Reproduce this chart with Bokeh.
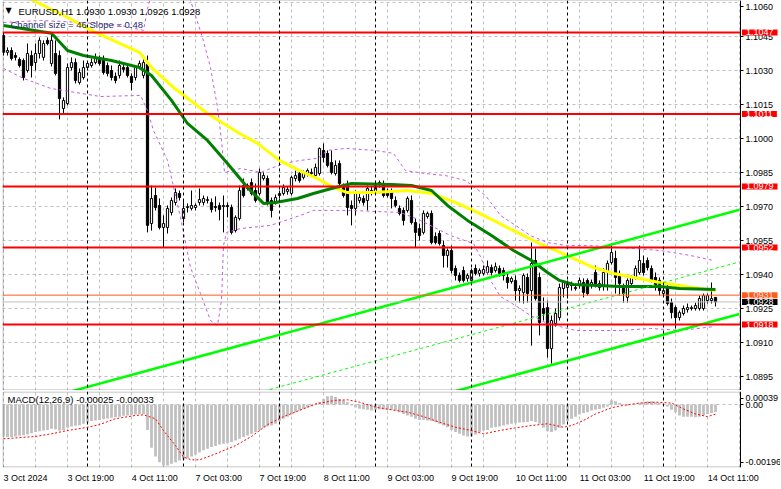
from bokeh.plotting import figure
from bokeh.layouts import column
from bokeh.models import (Range1d, FixedTicker, Span, Label, NumeralTickFormatter, ColumnDataSource,
                          BoxAnnotation)
from bokeh.embed import file_html
from bokeh.resources import INLINE

# ---------------- data (EURUSD H1, bar 0 = 3 Oct 03:00) ----------------
bar_open = [1.10457,1.10382,1.10390,1.10368,1.10351,1.10346,1.10302,1.10368,1.10337,1.10377,
1.10360,1.10435,1.10333,1.10377,1.10368,1.10134,1.10156,1.10315,1.10337,1.10249,
1.10271,1.10315,1.10324,1.10337,1.10355,1.10355,1.10324,1.10302,1.10276,1.10280,
1.10315,1.10315,1.10276,1.10271,1.10315,1.10280,1.10329,1.09626,1.09750,1.09706,
1.09609,1.09609,1.09675,1.09719,1.09759,1.09648,1.09697,1.09693,1.09697,1.09719,
1.09719,1.09728,1.09719,1.09701,1.09706,1.09701,1.09706,1.09697,1.09595,1.09648,
1.09794,1.09781,1.09807,1.09772,1.09759,1.09825,1.09825,1.09728,1.09719,1.09750,
1.09759,1.09768,1.09759,1.09825,1.09847,1.09830,1.09843,1.09847,1.09838,1.09847,
1.09949,1.09936,1.09896,1.09847,1.09891,1.09785,1.09794,1.09706,1.09693,1.09728,
1.09737,1.09728,1.09772,1.09763,1.09803,1.09803,1.09763,1.09772,1.09728,1.09693,
1.09684,1.09684,1.09728,1.09631,1.09604,1.09587,1.09657,1.09671,1.09569,1.09582,
1.09529,1.09485,1.09507,1.09428,1.09397,1.09419,1.09384,1.09375,1.09428,1.09406,
1.09406,1.09410,1.09432,1.09419,1.09428,1.09419,1.09388,1.09370,1.09375,1.09330,
1.09322,1.09388,1.09330,1.09463,1.09388,1.09251,1.09255,1.09074,1.09185,1.09211,
1.09339,1.09344,1.09353,1.09339,1.09353,1.09366,1.09375,1.09353,1.09410,1.09344,
1.09353,1.09410,1.09454,1.09472,1.09397,1.09344,1.09300,1.09361,1.09388,1.09410,
1.09450,1.09463,1.09428,1.09388,1.09375,1.09317,1.09344,1.09277,1.09255,1.09211,
1.09229,1.09246,1.09251,1.09251,1.09251,1.09251,1.09286,1.09286,1.09300]
bar_high = [1.10470,1.10404,1.10404,1.10382,1.10360,1.10355,1.10421,1.10390,1.10421,1.10448,
1.10435,1.10448,1.10466,1.10435,1.10390,1.10183,1.10333,1.10360,1.10355,1.10311,
1.10346,1.10337,1.10355,1.10377,1.10368,1.10368,1.10337,1.10324,1.10293,1.10346,
1.10333,1.10333,1.10289,1.10324,1.10346,1.10368,1.10368,1.09794,1.09785,1.09737,
1.09662,1.09706,1.09741,1.09781,1.09772,1.09728,1.09715,1.09772,1.09715,1.09781,
1.09750,1.09746,1.09737,1.09746,1.09719,1.09750,1.09719,1.09710,1.09662,1.09794,
1.09825,1.09803,1.09825,1.09803,1.09869,1.09852,1.09838,1.09741,1.09754,1.09772,
1.09799,1.09790,1.09838,1.09860,1.09860,1.09860,1.09869,1.09869,1.09891,1.09962,
1.09980,1.09949,1.09949,1.09905,1.09905,1.09803,1.09816,1.09728,1.09772,1.09759,
1.09750,1.09794,1.09790,1.09807,1.09816,1.09816,1.09781,1.09781,1.09746,1.09706,
1.09697,1.09746,1.09750,1.09648,1.09626,1.09684,1.09679,1.09684,1.09587,1.09595,
1.09551,1.09516,1.09529,1.09441,1.09410,1.09436,1.09406,1.09428,1.09445,1.09428,
1.09441,1.09463,1.09445,1.09454,1.09441,1.09432,1.09410,1.09392,1.09397,1.09353,
1.09406,1.09406,1.09542,1.09516,1.09410,1.09300,1.09286,1.09220,1.09251,1.09361,
1.09375,1.09375,1.09370,1.09361,1.09388,1.09384,1.09384,1.09379,1.09441,1.09375,
1.09428,1.09463,1.09538,1.09507,1.09419,1.09361,1.09384,1.09397,1.09441,1.09529,
1.09485,1.09476,1.09441,1.09410,1.09388,1.09344,1.09357,1.09295,1.09264,1.09242,
1.09264,1.09273,1.09264,1.09277,1.09308,1.09317,1.09317,1.09366,1.09300]
bar_low = [1.10368,1.10368,1.10346,1.10346,1.10315,1.10258,1.10293,1.10271,1.10302,1.10355,
1.10346,1.10413,1.10320,1.10280,1.10086,1.10112,1.10148,1.10302,1.10245,1.10240,
1.10262,1.10302,1.10315,1.10329,1.10324,1.10284,1.10276,1.10258,1.10245,1.10267,
1.10293,1.10271,1.10214,1.10258,1.10307,1.10267,1.09587,1.09595,1.09684,1.09600,
1.09520,1.09582,1.09662,1.09706,1.09728,1.09631,1.09675,1.09684,1.09684,1.09706,
1.09706,1.09715,1.09675,1.09679,1.09640,1.09587,1.09653,1.09578,1.09587,1.09640,
1.09741,1.09772,1.09750,1.09719,1.09750,1.09816,1.09706,1.09653,1.09710,1.09737,
1.09750,1.09754,1.09750,1.09812,1.09807,1.09821,1.09834,1.09838,1.09830,1.09838,
1.09896,1.09874,1.09843,1.09838,1.09772,1.09741,1.09662,1.09618,1.09662,1.09715,
1.09706,1.09684,1.09750,1.09754,1.09785,1.09741,1.09741,1.09693,1.09697,1.09662,
1.09618,1.09675,1.09622,1.09520,1.09551,1.09578,1.09648,1.09534,1.09534,1.09529,
1.09432,1.09432,1.09406,1.09375,1.09366,1.09366,1.09370,1.09366,1.09397,1.09392,
1.09397,1.09401,1.09397,1.09410,1.09392,1.09375,1.09339,1.09361,1.09286,1.09277,
1.09273,1.09277,1.09087,1.09286,1.09132,1.09198,1.09034,1.09008,1.09171,1.09198,
1.09300,1.09295,1.09330,1.09330,1.09339,1.09300,1.09308,1.09339,1.09344,1.09330,
1.09330,1.09330,1.09445,1.09317,1.09308,1.09277,1.09277,1.09353,1.09379,1.09401,
1.09397,1.09419,1.09366,1.09330,1.09308,1.09304,1.09264,1.09207,1.09163,1.09198,
1.09220,1.09233,1.09242,1.09242,1.09242,1.09242,1.09273,1.09273,1.09260]
bar_close = [1.10382,1.10390,1.10355,1.10360,1.10324,1.10271,1.10377,1.10324,1.10377,1.10435,
1.10421,1.10421,1.10435,1.10289,1.10178,1.10170,1.10315,1.10337,1.10258,1.10293,
1.10315,1.10333,1.10337,1.10355,1.10333,1.10293,1.10289,1.10271,1.10258,1.10324,
1.10307,1.10280,1.10249,1.10315,1.10333,1.10337,1.09618,1.09737,1.09697,1.09609,
1.09626,1.09693,1.09728,1.09763,1.09741,1.09693,1.09701,1.09706,1.09706,1.09732,
1.09737,1.09732,1.09688,1.09697,1.09688,1.09706,1.09701,1.09587,1.09653,1.09772,
1.09750,1.09794,1.09759,1.09728,1.09852,1.09838,1.09715,1.09684,1.09741,1.09759,
1.09785,1.09777,1.09830,1.09838,1.09816,1.09847,1.09860,1.09852,1.09874,1.09958,
1.09918,1.09883,1.09852,1.09883,1.09803,1.09750,1.09697,1.09693,1.09759,1.09741,
1.09719,1.09781,1.09759,1.09794,1.09807,1.09750,1.09750,1.09737,1.09706,1.09671,
1.09640,1.09737,1.09631,1.09587,1.09573,1.09671,1.09671,1.09542,1.09542,1.09538,
1.09485,1.09507,1.09419,1.09397,1.09375,1.09375,1.09397,1.09419,1.09406,1.09419,
1.09423,1.09436,1.09410,1.09436,1.09406,1.09397,1.09366,1.09384,1.09330,1.09339,
1.09397,1.09317,1.09450,1.09295,1.09189,1.09229,1.09074,1.09198,1.09229,1.09344,
1.09366,1.09361,1.09361,1.09344,1.09375,1.09322,1.09317,1.09366,1.09353,1.09361,
1.09410,1.09450,1.09498,1.09388,1.09361,1.09317,1.09375,1.09388,1.09428,1.09463,
1.09410,1.09432,1.09375,1.09344,1.09330,1.09330,1.09273,1.09233,1.09211,1.09233,
1.09251,1.09255,1.09255,1.09264,1.09295,1.09308,1.09308,1.09295,1.09280]

# moving averages (key points: bar index, price)
ma_fast_idx = [0,12,16,20,27,34,37,42,46,51,56,61,65,68,73.5,77.5,82,87,97,102,107,111,116,122,127.5,132,136,139,142.5,148.5,154,164,169,178]
ma_fast = [1.10501,1.10466,1.10390,1.10368,1.10346,1.10315,1.10280,1.10170,1.10068,1.09993,1.09891,1.09785,1.09715,1.09719,1.09737,1.09759,1.09781,1.09803,1.09799,1.09794,1.09772,1.09706,1.09640,1.09573,1.09507,1.09463,1.09410,1.09375,1.09357,1.09353,1.09348,1.09348,1.09339,1.09335]
ma_slow_idx = [0,7.5,16,23,34,37,42.5,51,59,63.5,69,74,78.5,82.5,86,92.5,101,107,113.5,119,127.5,134,141,147.5,152.5,164,174,178]
ma_slow = [1.10664,1.10611,1.10536,1.10470,1.10382,1.10315,1.10227,1.10112,1.10024,1.09980,1.09905,1.09860,1.09825,1.09785,1.09763,1.09763,1.09772,1.09759,1.09715,1.09671,1.09595,1.09538,1.09485,1.09432,1.09406,1.09366,1.09339,1.09330]

# envelope bands
band_up_idx = [0,9.25,19.25,29.25,35,36,38,43,46.75,49.75,51.75,53.5,54.5,55.25,59.25,64.25,70,74.25,78.5,81,85.5,93,97.5,100.5,105.5,110.5,115.5,120.5,124.25,128,131.75,136,141,146.75,157.5,164.25,171.75,177.5]
band_up = [1.10514,1.10523,1.10514,1.10501,1.10479,1.10576,1.10700,1.10744,1.10611,1.10448,1.10315,1.10139,1.09993,1.09852,1.09869,1.09852,1.09891,1.09905,1.09914,1.09949,1.09958,1.09949,1.09936,1.09860,1.09847,1.09838,1.09816,1.09750,1.09662,1.09618,1.09573,1.09542,1.09529,1.09529,1.09516,1.09507,1.09485,1.09463]
band_lo_idx = [0,5,11.75,24.25,34.25,36,37.5,41,44.25,46.75,49.25,51.75,53.5,54.5,55,55.75,59.25,66.75,74.25,77.5,86.75,99.25,104.25,111.75,117.5,119.25,121.75,124.25,128,131.75,135.5,139.25,143,154.25,161.75,169.25,177.5]
band_lo = [1.10311,1.10267,1.10223,1.10187,1.10192,1.10125,1.10037,1.09905,1.09653,1.09432,1.09317,1.09198,1.09176,1.09286,1.09529,1.09587,1.09604,1.09618,1.09662,1.09684,1.09684,1.09675,1.09640,1.09573,1.09538,1.09480,1.09375,1.09304,1.09264,1.09220,1.09189,1.09171,1.09154,1.09154,1.09163,1.09154,1.09171]

# regression channel
channel_idx = [0, 184]
channel_upper = [1.08804, 1.09687]
channel_mid = [1.08574, 1.09457]
channel_lower = [1.08344, 1.09227]
channel_size = 46
channel_slope = 0.48

# horizontal levels
levels_red = [1.1047, 1.1011, 1.0979, 1.0952, 1.0918]
level_orange = 1.0931
level_bid = 1.0928

# MACD(12,26,9)
macd_vals = [-0.00108,-0.00110,-0.00110,-0.00108,-0.00106,-0.00104,-0.00101,-0.00097,-0.00093,-0.00090,
-0.00088,-0.00086,-0.00082,-0.00084,-0.00088,-0.00086,-0.00079,-0.00074,-0.00072,-0.00070,
-0.00065,-0.00061,-0.00056,-0.00054,-0.00052,-0.00050,-0.00047,-0.00045,-0.00043,-0.00041,
-0.00038,-0.00037,-0.00036,-0.00034,-0.00033,-0.00032,-0.00086,-0.00146,-0.00176,-0.00195,
-0.00206,-0.00206,-0.00200,-0.00195,-0.00189,-0.00186,-0.00182,-0.00176,-0.00169,-0.00162,
-0.00155,-0.00150,-0.00144,-0.00140,-0.00135,-0.00133,-0.00131,-0.00127,-0.00122,-0.00116,
-0.00110,-0.00105,-0.00099,-0.00093,-0.00086,-0.00079,-0.00074,-0.00071,-0.00065,-0.00056,
-0.00048,-0.00041,-0.00034,-0.00026,-0.00020,-0.00016,-0.00011,-0.00007,-0.00002,0.00008,
0.00019,0.00028,0.00030,0.00025,0.00019,0.00014,0.00008,-0.00003,-0.00009,-0.00014,
-0.00016,-0.00018,-0.00020,-0.00018,-0.00016,-0.00017,-0.00018,-0.00018,-0.00020,-0.00026,
-0.00032,-0.00037,-0.00041,-0.00048,-0.00052,-0.00052,-0.00054,-0.00056,-0.00060,-0.00065,
-0.00071,-0.00077,-0.00086,-0.00093,-0.00099,-0.00105,-0.00108,-0.00108,-0.00101,-0.00093,
-0.00088,-0.00086,-0.00079,-0.00077,-0.00074,-0.00071,-0.00068,-0.00065,-0.00063,-0.00061,
-0.00060,-0.00059,-0.00056,-0.00059,-0.00065,-0.00079,-0.00090,-0.00093,-0.00088,-0.00079,
-0.00068,-0.00056,-0.00048,-0.00041,-0.00034,-0.00029,-0.00026,-0.00020,-0.00018,-0.00015,
-0.00011,-0.00007,0.00014,0.00011,0.00005,0.00001,-0.00003,0.00000,0.00002,0.00005,
0.00008,0.00011,0.00011,0.00008,0.00005,0.00002,-0.00007,-0.00018,-0.00026,-0.00037,
-0.00041,-0.00041,-0.00041,-0.00043,-0.00041,-0.00037,-0.00032,-0.00029,-0.00025]
signal_idx = [0,8,12,16,21,24,28,33,35,38,40,43,45,47,49,53,58,62,66,70,74,78,83,86,89,93,97,101,105,109,113,117,120,124,128,132,136,140,142,145,148,152,155,159,163,167,170,173,176,178]
signal_vals = [-0.00116,-0.00108,-0.00099,-0.00088,-0.00077,-0.00068,-0.00048,-0.00037,-0.00035,-0.00048,-0.00088,-0.00139,-0.00178,-0.00187,-0.00187,-0.00167,-0.00139,-0.00108,-0.00068,-0.00041,-0.00020,0.00002,0.00014,0.00016,0.00008,-0.00009,-0.00018,-0.00026,-0.00041,-0.00060,-0.00077,-0.00088,-0.00099,-0.00088,-0.00079,-0.00071,-0.00065,-0.00077,-0.00071,-0.00054,-0.00032,-0.00011,-0.00003,0.00005,0.00008,0.00005,-0.00015,-0.00032,-0.00041,-0.00033]

# axes
price_ticks = [1.0895, 1.0910, 1.0925, 1.0940, 1.0955, 1.0970, 1.0985, 1.1000, 1.1015, 1.1030, 1.1045, 1.1060]
macd_ticks = [-0.00196, 0.0, 0.00039]
macd_tick_labels = ["-0.00196", "0.00", "0.00039"]
grid_idx = list(range(0, 185, 8))
day_start_idx = [21, 45, 69, 93, 117, 141, 165]
time_tick_idx = [0, 16, 32, 48, 64, 80, 96, 112, 128, 144, 160, 176]
time_tick_labels = ["3 Oct 2024", "3 Oct 19:00", "4 Oct 11:00", "7 Oct 03:00", "7 Oct 19:00", "8 Oct 11:00",
                    "9 Oct 03:00", "9 Oct 19:00", "10 Oct 11:00", "11 Oct 03:00", "11 Oct 19:00", "14 Oct 11:00"]

# ---------------- layout constants ----------------
FONT = "Liberation Sans"
FS_AX = 9.0
FS_TXT = "9.5px"
X_START, X_END, X_FULL = -0.25, 184.25, 194.25      # chart area + price-label zone
Y_BOT, Y_TOP = 1.08889, 1.10611
M_BOT, M_TOP = -0.00213, 0.00044
FRAME_W = 778
MAIN_H = 390
MACD_H = 76
px_per_price = MAIN_H / (Y_TOP - Y_BOT)
px_per_macd = MACD_H / (M_TOP - M_BOT)
px_per_bar = FRAME_W / (X_FULL - X_START)

x_range = Range1d(X_START, X_FULL)

# approximate Liberation Sans advance widths (em) to centre the time labels right of their tick
_cw = {" ": 0.278, ":": 0.278, ".": 0.278, "O": 0.778, "c": 0.5, "t": 0.278}
def text_width_px(s, size):
    return sum(_cw.get(ch, 0.556) for ch in s) * size

def style_axis(ax):
    ax.major_label_text_font = FONT
    ax.major_label_text_font_size = f"{FS_AX}px"
    ax.major_label_text_color = "black"
    ax.major_tick_in = 0
    ax.major_tick_out = 3
    ax.minor_tick_in = 0
    ax.minor_tick_out = 0
    ax.major_label_standoff = 2
    ax.axis_line_color = "black"

def chart_frame(fig, ybot, ytop):
    # white price-label zone over the horizontal grid, border round the chart area
    fig.add_layout(BoxAnnotation(left=X_END, fill_color="white", fill_alpha=1.0, line_alpha=0, level="underlay"))
    fig.add_layout(BoxAnnotation(left=X_START + 0.5 / px_per_bar, right=X_END, bottom=ybot, top=ytop,
                                 fill_alpha=0, line_color="black", line_width=1))

src = ColumnDataSource(dict(
    x=list(range(len(bar_open))), h=bar_high, l=bar_low,
    top=[max(o, c) for o, c in zip(bar_open, bar_close)],
    bot=[min(o, c) for o, c in zip(bar_open, bar_close)],
    fill=["white" if c >= o else "black" for o, c in zip(bar_open, bar_close)],
))

# ---------------- main price pane ----------------
p = figure(frame_width=FRAME_W, frame_height=MAIN_H, x_range=x_range, y_range=Range1d(Y_BOT, Y_TOP),
           y_axis_location="right", output_backend="svg", toolbar_location=None,
           min_border_left=2, min_border_right=0, min_border_top=0, min_border_bottom=0,
           outline_line_color=None, background_fill_color="white", border_fill_color="white")
p.xaxis.visible = False
p.xgrid.ticker = FixedTicker(ticks=grid_idx)
p.ygrid.ticker = FixedTicker(ticks=price_ticks)
for g in (p.xgrid, p.ygrid):
    g.grid_line_color = "#C0C0C0"
    g.grid_line_dash = "3 3"
chart_frame(p, Y_BOT + 0.5 / px_per_price, Y_TOP)

ya = p.yaxis[0]
style_axis(ya)
ya.fixed_location = X_END
# keep edge labels inside the pane
top_lim = Y_TOP - 6 / px_per_price
price_label_pos = [min(t, top_lim) for t in price_ticks]
ya.ticker = FixedTicker(ticks=price_label_pos)
ya.major_label_overrides = {pos: f"{t:.4f}" for pos, t in zip(price_label_pos, price_ticks)}

for d in day_start_idx:
    p.add_layout(Span(location=d, dimension="height", line_color="black", line_dash="3 3", line_width=1))

# candles
p.segment(x0="x", y0="h", x1="x", y1="l", source=src, line_color="black", line_width=1)
p.vbar(x="x", width=0.55, top="top", bottom="bot", fill_color="fill", line_color="black", line_width=1, source=src)

# bands
p.line(band_up_idx, band_up, line_color="#C45CE6", line_dash="3 3", line_width=1)
p.line(band_lo_idx, band_lo, line_color="#C45CE6", line_dash="3 3", line_width=1)

# moving averages
p.line(ma_slow_idx, ma_slow, line_color="#FFFF00", line_width=3)
p.line(ma_fast_idx, ma_fast, line_color="#008000", line_width=3)

# channel
p.line(channel_idx, channel_upper, line_color="#00FF00", line_width=2.5)
p.line(channel_idx, channel_mid, line_color="#00FF00", line_width=1, line_dash="3 3")
p.line(channel_idx, channel_lower, line_color="#00FF00", line_width=2.5)

# level lines (chart area only)
p.segment(x0=X_START, x1=X_END, y0=[level_bid], y1=[level_bid], line_color="#C0C0C0", line_width=1)
p.segment(x0=X_START, x1=X_END, y0=[level_orange], y1=[level_orange], line_color="#FF5A1A", line_width=1)
p.segment(x0=X_START, x1=X_END, y0=levels_red, y1=levels_red, line_color="#FF0000", line_width=2)

# price boxes on the axis
def box_label(val, bg, fg):
    kw = dict(x=X_END, y=val, x_offset=1.5, text=f"{val:.4f}", text_align="left",
              text_baseline="middle", text_font=FONT, text_font_size=f"{FS_AX}px", text_color=fg,
              background_fill_color=bg)
    try:
        lab = Label(padding=dict(left=4, right=4, top=0, bottom=0), **kw)
    except Exception:
        lab = Label(padding=2, **kw)
    p.add_layout(lab)

for lv in levels_red:
    box_label(lv, "#FF0000", "white")
box_label(level_orange, "#FF5A1A", "#FFE0E0")
box_label(level_bid, "black", "white")

# header texts
title = "EURUSD,H1  {:.4f} {:.4f} {:.4f} {:.4f}".format(bar_open[-1], bar_high[-1], bar_low[-1], bar_close[-1])
p.add_layout(Label(x=X_START, y=Y_TOP, x_offset=3, y_offset=-10, text="\u25bc", text_font="DejaVu Sans",
                   text_font_size="8px", text_baseline="middle", text_color="black"))
p.add_layout(Label(x=X_START, y=Y_TOP, x_offset=16, y_offset=-11, text=title, text_font=FONT,
                   text_font_size=FS_TXT, text_baseline="middle", text_color="black"))
p.add_layout(Label(x=X_START, y=Y_TOP, x_offset=8, y_offset=-24,
                   text=f"Channel size = {channel_size} Slope = {channel_slope:.2f}", text_font=FONT,
                   text_font_size=FS_TXT, text_baseline="middle", text_color="#1F2A6B"))

# ---------------- MACD pane ----------------
p2 = figure(frame_width=FRAME_W, frame_height=MACD_H, x_range=x_range, y_range=Range1d(M_BOT, M_TOP),
            y_axis_location="right", output_backend="svg", toolbar_location=None,
            min_border_left=2, min_border_right=0, min_border_top=1, min_border_bottom=0,
            outline_line_color=None, background_fill_color="white", border_fill_color="white")
p2.xgrid.ticker = FixedTicker(ticks=grid_idx)
p2.ygrid.ticker = FixedTicker(ticks=[0.0])
for g in (p2.xgrid, p2.ygrid):
    g.grid_line_color = "#C0C0C0"
    g.grid_line_dash = "3 3"
chart_frame(p2, M_BOT + 0.5 / px_per_macd, M_TOP - 0.5 / px_per_macd)
for d in day_start_idx:
    p2.add_layout(Span(location=d, dimension="height", line_color="black", line_dash="3 3", line_width=1))

p2.vbar(x=list(range(len(macd_vals))), top=macd_vals, bottom=0, width=0.7, fill_color="#C0C0C0", line_color=None)
p2.line(signal_idx, signal_vals, line_color="#FF0000", line_dash="2 2", line_width=1)

ya2 = p2.yaxis[0]
style_axis(ya2)
ya2.fixed_location = X_END
mtop_lim = M_TOP - 6.5 / px_per_macd
macd_label_pos = [min(t, mtop_lim) for t in macd_ticks]
ya2.ticker = FixedTicker(ticks=macd_label_pos)
ya2.major_label_overrides = {pos: s for pos, s in zip(macd_label_pos, macd_tick_labels)}

xa2 = p2.xaxis[0]
style_axis(xa2)
xa2.axis_line_color = None
xa2.major_tick_out = 0
xa2.major_label_standoff = 5
time_label_pos = [round(i + text_width_px(s, FS_AX) / 2 / px_per_bar, 3)
                  for i, s in zip(time_tick_idx, time_tick_labels)]
xa2.ticker = FixedTicker(ticks=time_label_pos)
xa2.major_label_overrides = {pos: s for pos, s in zip(time_label_pos, time_tick_labels)}

p2.add_layout(Label(x=X_START, y=M_TOP, x_offset=5, y_offset=-8,
                    text=f"MACD(12,26,9) {macd_vals[-1]:.5f} {signal_vals[-1]:.5f}", text_font=FONT,
                    text_font_size=FS_TXT, text_baseline="middle", text_color="black"))

layout = column(p, p2, spacing=0)
open("out.html", "w").write(file_html(layout, INLINE))
